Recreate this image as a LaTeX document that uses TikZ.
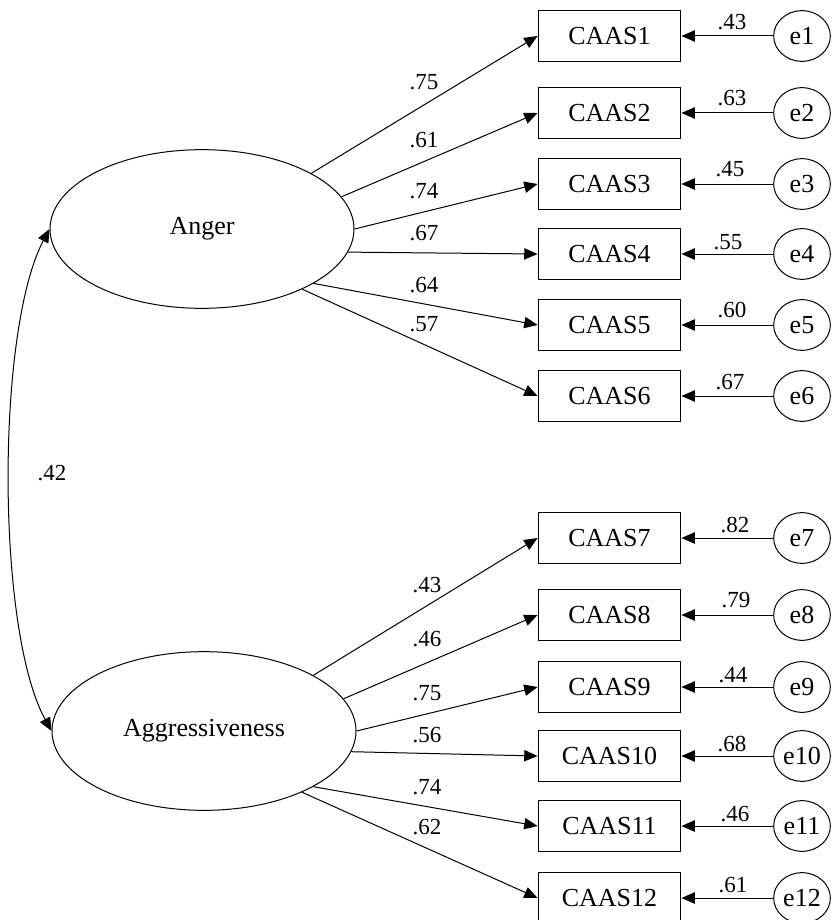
\documentclass[tikz,border=0pt]{standalone}
\usepackage{fontspec}
\setmainfont{Liberation Serif}
\usetikzlibrary{arrows.meta,shapes.geometric}
\begin{document}
\begin{tikzpicture}[x=0.75pt,y=-0.75pt,
  obs/.style={draw, line width=0.9pt, minimum width=107pt, minimum height=38pt, inner sep=0pt, font=\fontsize{19.5}{20}\selectfont},
  lat/.style={draw, ellipse, line width=0.75pt, minimum width=228pt, minimum height=119pt, inner sep=0pt, font=\fontsize{19.5}{20}\selectfont},
  err/.style={draw, ellipse, line width=0.75pt, minimum width=42.5pt, minimum height=38pt, inner sep=0pt, font=\fontsize{19.5}{20}\selectfont},
  lbl/.style={font=\fontsize{17.25}{18}\selectfont, inner sep=0.5pt},
  elbl/.style={lbl, fill=white},
  ld/.style={line width=0.75pt, -{Triangle[length=10pt,width=8.5pt]}},
  cov/.style={line width=0.75pt, {Triangle[length=10pt,width=8.5pt]}-{Triangle[length=10pt,width=8.5pt]}},
]
\useasboundingbox (0,0) rectangle (831,920);

% latent variables
\node[lat] (a) at (202,229) {Anger};
\node[lat] (g) at (204,731) {Aggressiveness};

% indicators and error terms
\foreach \i/\y in {1/36,2/113,3/184,4/254,5/325,6/396,7/538,8/615,9/687,10/756,11/826,12/898} {
  \node[obs] (c\i) at (609.5,\y) {CAAS\i};
  \node[err] (e\i) at (802,\y) {e\i};
  \draw[ld] (e\i.west) -- (c\i.east);
}

% error labels
\foreach \i/\x/\y/\t in {1/732/22/.43, 2/732/98/.63, 3/730/169/.45, 4/728/242/.55, 5/732/310/.60, 6/730/382/.67,
  7/735/525/.82, 8/736/600/.79, 9/733/675/.44, 10/732/744/.68, 11/735/814/.46, 12/733/885/.61} {
  \node[elbl] (el\i) at (\x,\y) {\t};
}

% loadings
\foreach \i/\ang in {1/27,2/13,3/0,4/-9,5/-26,6/-31} {
  \draw[ld] (a.\ang) -- (c\i.west);
}
\foreach \i/\ang in {7/27,8/13,9/0,10/-8,11/-27,12/-32} {
  \draw[ld] (g.\ang) -- (c\i.west);
}

% loading labels
\foreach \i/\x/\y/\t in {1/424/82/.75, 2/424/140/.61, 3/424/191/.74, 4/424/233/.67, 5/424/285/.64, 6/424/324/.57,
  7/427/585/.43, 8/427/639/.46, 9/427/693/.75, 10/427/735/.56, 11/427/787/.74, 12/427/827/.62} {
  \node[lbl] (ll\i) at (\x,\y) {\t};
}

% covariance
\draw[cov] (a.west) .. controls (-4,330) and (-4,630) .. (g.west);
\node[lbl] (r) at (52,473) {.42};
\end{tikzpicture}
\end{document}
